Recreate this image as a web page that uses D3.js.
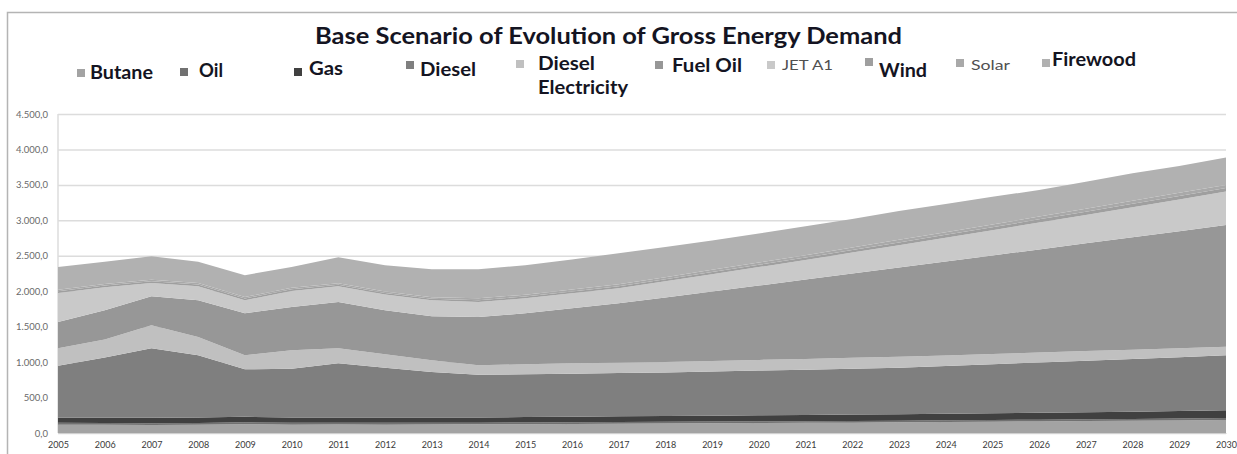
<!DOCTYPE html>
<html>
<head>
<meta charset="utf-8">
<script src="https://cdn.jsdelivr.net/npm/d3@7/dist/d3.min.js"></script>
<style>
  body { margin: 0; background: #fff; }
  svg { display: block; font-family: Lato, "Open Sans", sans-serif; }
</style>
</head>
<body>
<svg id="chart"></svg>
<script>
const years = [2005, 2006, 2007, 2008, 2009, 2010, 2011, 2012, 2013, 2014, 2015, 2016, 2017,
  2018, 2019, 2020, 2021, 2022, 2023, 2024, 2025, 2026, 2027, 2028, 2029, 2030];

const butane = [117, 115, 112, 115, 125, 118, 120, 118, 120, 122, 125, 128, 131, 134, 137, 140, 143, 146, 150, 154, 158, 163, 168, 173, 178, 185];
const oil = [28, 27, 27, 26, 26, 25, 25, 25, 24, 24, 24, 24, 24, 24, 24, 24, 24, 24, 24, 25, 25, 25, 25, 25, 25, 25];
const gas = [71, 72, 75, 76, 78, 75, 75, 74, 74, 74, 76, 78, 80, 82, 84, 86, 88, 90, 92, 94, 96, 98, 100, 103, 106, 110];
const diesel = [734, 852, 981, 879, 670, 687, 765, 703, 642, 600, 603, 605, 610, 615, 623, 630, 638, 646, 654, 672, 691, 709, 727, 744, 761, 776];
const dieselElec = [245, 254, 325, 257, 197, 261, 210, 190, 165, 135, 142, 150, 145, 148, 149, 151, 152, 154, 155, 150, 145, 140, 135, 130, 125, 119];
const fuelOil = [372, 412, 409, 520, 593, 612, 654, 621, 622, 682, 719, 775, 840, 907, 978, 1049, 1120, 1190, 1260, 1325, 1390, 1455, 1520, 1585, 1650, 1720];
const jetA1 = [409, 324, 188, 197, 184, 226, 221, 222, 226, 212, 211, 211, 212, 230, 245, 260, 275, 295, 315, 335, 355, 380, 400, 425, 450, 470];
const wind = [25, 25, 25, 25, 25, 25, 22, 22, 22, 25, 25, 25, 27, 28, 30, 32, 34, 36, 38, 40, 42, 44, 46, 48, 50, 52];
const solar = [20, 20, 20, 20, 20, 20, 21, 21, 21, 26, 26, 27, 29, 30, 32, 33, 35, 36, 37, 38, 39, 40, 41, 42, 43, 43];
const firewood = [322, 313, 332, 299, 308, 294, 367, 371, 394, 410, 416, 425, 438, 427, 413, 410, 406, 403, 405, 396, 391, 373, 382, 390, 378, 385];

const seriesNames = ["Butane", "Oil", "Gas", "Diesel", "Diesel Electricity", "Fuel Oil", "JET A1", "Wind", "Solar", "Firewood"];
const seriesValues = [butane, oil, gas, diesel, dieselElec, fuelOil, jetA1, wind, solar, firewood];
const yTicks = [0, 500, 1000, 1500, 2000, 2500, 3000, 3500, 4000, 4500];
const title = "Base Scenario of Evolution of Gross Energy Demand";

const colors = ["#a3a3a3", "#717171", "#404040", "#7f7f7f", "#c0c0c0", "#979797", "#c9c9c9", "#9f9f9f", "#a9a9a9", "#b1b1b1"];

// legend placement copied by eye from the original (it is not a neat row)
const legendLayout = [
  { mx: 77, my: 69, lines: [[90, 79, 63]], bold: true },
  { mx: 180, my: 68, lines: [[199, 77, 24]], bold: true },
  { mx: 294, my: 68, lines: [[309, 75, 34]], bold: true },
  { mx: 406, my: 61, lines: [[420, 76, 56]], bold: true },
  { mx: 516, my: 60, lines: [[538, 70, 57], [538, 94, 90]], bold: true },
  { mx: 655, my: 61, lines: [[672, 72, 70]], bold: true },
  { mx: 767, my: 61, lines: [[782, 70, 51]], bold: false },
  { mx: 865, my: 58, lines: [[879, 77, 48]], bold: true },
  { mx: 956, my: 59, lines: [[971, 70, 39]], bold: false },
  { mx: 1042, my: 59, lines: [[1052, 66, 84]], bold: true }
];

const width = 1237, height = 454;
const svg = d3.select("#chart")
  .attr("width", width)
  .attr("height", height);

// chart frame, runs off the bottom/right like the screenshot
svg.append("rect")
  .attr("x", 7.5).attr("y", 12.5)
  .attr("width", 1260).attr("height", 480)
  .attr("fill", "none")
  .attr("stroke", "#b4b4b4")
  .attr("stroke-width", 1.5);

const x = d3.scaleLinear().domain([2005, 2030]).range([58, 1226]);
const y = d3.scaleLinear().domain([0, 4500]).range([433, 114]);

const locale = d3.formatLocale({ decimal: ",", thousands: ".", grouping: [3], currency: ["", ""] });
const fmt = locale.format(",.1f");

// gridlines + y labels
const yAxis = svg.append("g")
  .attr("transform", "translate(58,0)")
  .call(d3.axisLeft(y).tickValues(yTicks).tickFormat(fmt).tickSize(-1168).tickPadding(10));
yAxis.select(".domain").remove();
yAxis.selectAll("line").attr("stroke", "#dcdcdc").attr("stroke-width", 1.5);
yAxis.selectAll("text")
  .attr("fill", "#6a6a6a")
  .style("font-size", "9.5px")
  .style("font-family", "Lato, sans-serif");

svg.append("line")
  .attr("x1", 58).attr("x2", 58)
  .attr("y1", y(4500)).attr("y2", y(0))
  .attr("stroke", "#dcdcdc").attr("stroke-width", 1.5);

const table = years.map((yr, i) => {
  const row = { year: yr };
  seriesNames.forEach((n, k) => { row[n] = seriesValues[k][i]; });
  return row;
});

const stacked = d3.stack().keys(seriesNames)(table);

const area = d3.area()
  .x(d => x(d.data.year))
  .y0(d => y(d[0]))
  .y1(d => y(d[1]));

svg.append("g")
  .selectAll("path")
  .data(stacked)
  .enter()
  .append("path")
  .attr("d", area)
  .attr("fill", (d, i) => colors[i]);

const xAxis = svg.append("g")
  .attr("transform", `translate(0, ${y(0)})`)
  .call(d3.axisBottom(x).tickValues(years).tickFormat(d3.format("d")).tickSize(0).tickPadding(9));
xAxis.select(".domain").attr("stroke", "#d0d0d0");
xAxis.selectAll("text")
  .attr("fill", "#3a3a3a")
  .style("font-size", "9px")
  .style("font-family", "Lato, sans-serif");

// title
svg.append("text")
  .attr("x", 315).attr("y", 44)
  .attr("textLength", 587)
  .attr("lengthAdjust", "spacingAndGlyphs")
  .attr("fill", "#141422")
  .style("font-size", "22px")
  .style("font-weight", "bold")
  .text(title);

// legend
const legend = svg.append("g");
legendLayout.forEach((L, i) => {
  legend.append("rect")
    .attr("x", L.mx).attr("y", L.my)
    .attr("width", 8).attr("height", 8)
    .attr("fill", colors[i]);
  const words = i === 4 ? ["Diesel", "Electricity"] : [seriesNames[i]];
  L.lines.forEach((ln, j) => {
    legend.append("text")
      .attr("x", ln[0]).attr("y", ln[1])
      .attr("textLength", ln[2])
      .attr("lengthAdjust", "spacingAndGlyphs")
      .attr("fill", L.bold ? "#141422" : "#505050")
      .style("font-size", L.bold ? "18px" : "14px")
      .style("font-weight", L.bold ? "bold" : "normal")
      .text(words[j]);
  });
});
</script>
</body>
</html>
